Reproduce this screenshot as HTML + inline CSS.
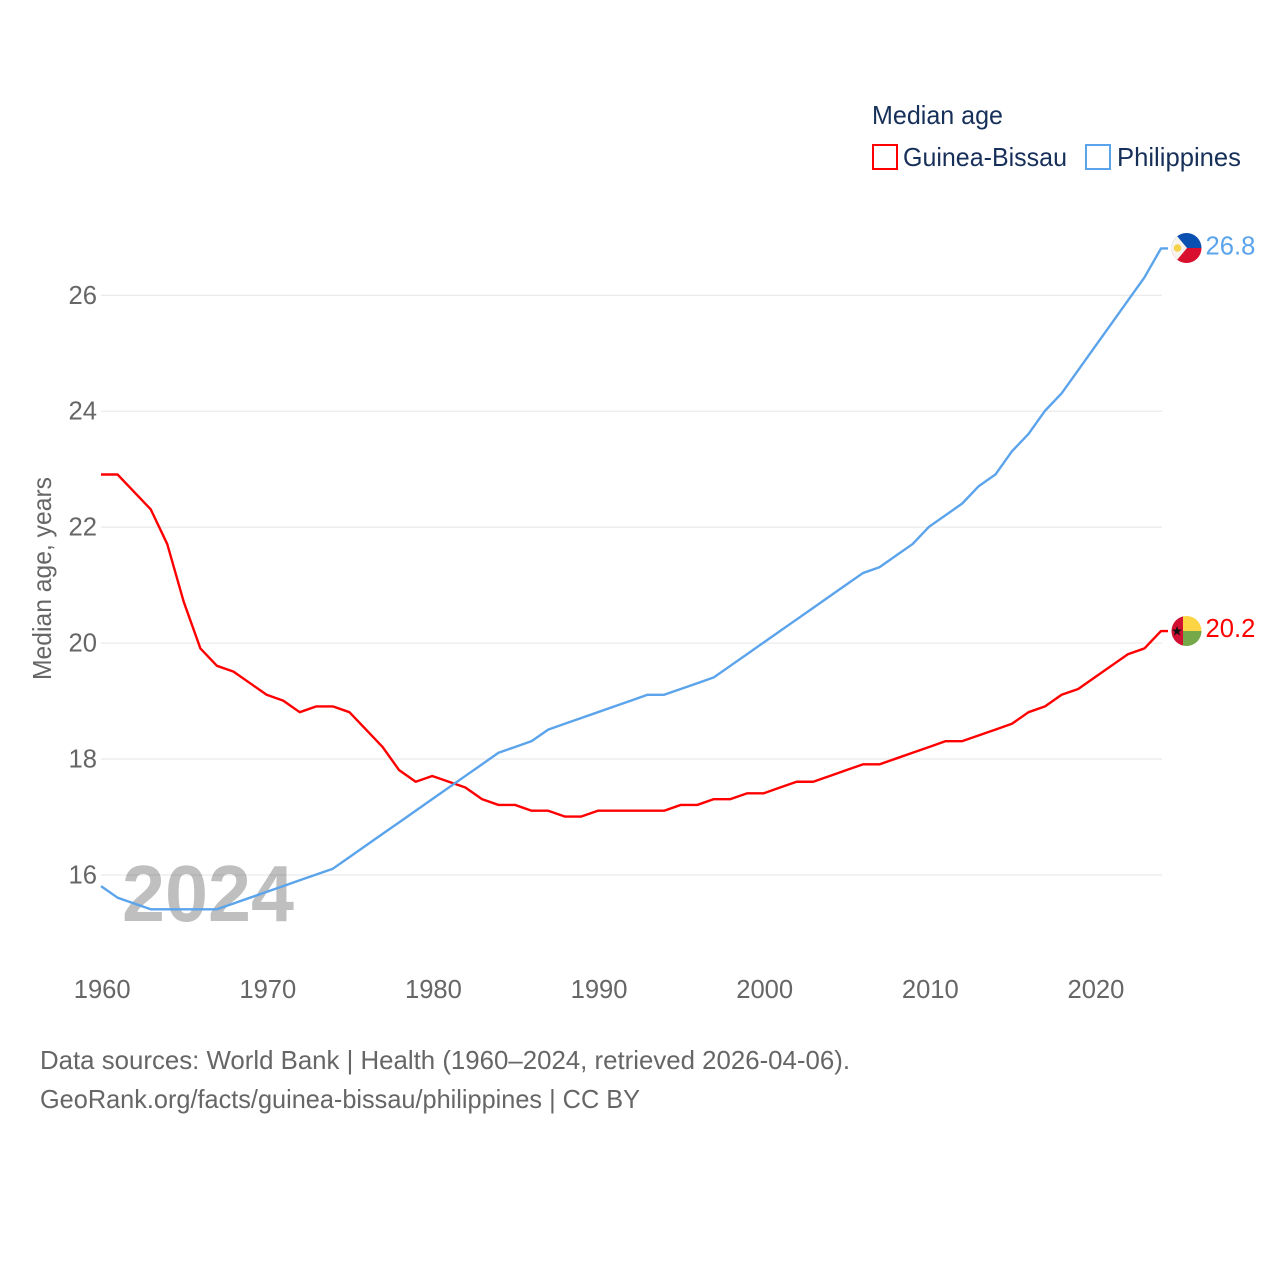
<!DOCTYPE html>
<html lang="en">
<head>
<meta charset="utf-8">
<title>Median age: Guinea-Bissau vs Philippines</title>
<style>
html,body{margin:0;padding:0;background:#fff;width:1280px;height:1280px;overflow:hidden}
svg{display:block}
text{font-family:"Liberation Sans",sans-serif}
</style>
</head>
<body>
<svg id="chart" xmlns="http://www.w3.org/2000/svg" width="1280" height="1280" viewBox="0 0 1280 1280">
  <rect width="1280" height="1280" fill="#fff"/>
  <g id="grid"></g>
  <g id="yticks"></g>
  <g id="xticks"></g>
  <text transform="translate(51,680) rotate(-90)" font-size="25.6" fill="#666" textLength="203" lengthAdjust="spacingAndGlyphs">Median age, years</text>
  <text x="122" y="921" font-size="80" font-weight="700" fill="#000" fill-opacity="0.25" textLength="172" lengthAdjust="spacingAndGlyphs">2024</text>
  <g id="series"></g>

  <g>
    <clipPath id="clip-ph"><circle cx="1186.5" cy="248" r="15"/></clipPath>
    <g clip-path="url(#clip-ph)">
      <rect x="1171" y="233" width="31" height="15" fill="#0a50b0"/>
      <rect x="1171" y="248" width="31" height="15" fill="#d8102e"/>
      <path d="M1167 224 L1187 248 L1167 272 Z" fill="#f6f4ec"/>
      <circle cx="1177.5" cy="248" r="3.8" fill="#f8d24a"/>
    </g>
  </g>
  <g>
    <clipPath id="clip-gw"><circle cx="1186.5" cy="631" r="15"/></clipPath>
    <g clip-path="url(#clip-gw)">
      <rect x="1171" y="616" width="12" height="30" fill="#d21034"/>
      <rect x="1183" y="616" width="19" height="15" fill="#fdd444"/>
      <rect x="1183" y="631" width="19" height="15" fill="#74a848"/>
      <path d="M1177 626 l1.3 3.6 3.7 0 -3 2.3 1.1 3.7 -3.1-2.2 -3.1 2.2 1.1-3.7 -3-2.3 3.7 0 z" fill="#111"/>
    </g>
  </g>
  <g id="end-labels"></g>

  <g>
    <text x="872" y="124" font-size="26" fill="#17305a" textLength="131" lengthAdjust="spacingAndGlyphs">Median age</text>
    <g>
      <rect x="873" y="145" width="24" height="24" fill="#fff" stroke="#ff0000" stroke-width="2"/>
      <text x="903" y="166" font-size="26" fill="#17305a" textLength="164" lengthAdjust="spacingAndGlyphs">Guinea-Bissau</text>
    </g>
    <g>
      <rect x="1086" y="145" width="24" height="24" fill="#fff" stroke="#5ba4ec" stroke-width="2"/>
      <text x="1117" y="166" font-size="26" fill="#17305a" textLength="124" lengthAdjust="spacingAndGlyphs">Philippines</text>
    </g>
  </g>

  <text x="40" y="1069" font-size="25.6" fill="#666" textLength="810" lengthAdjust="spacingAndGlyphs">Data sources: World Bank | Health (1960–2024, retrieved 2026-04-06).</text>
  <text x="40" y="1108" font-size="25.6" fill="#666" textLength="600" lengthAdjust="spacingAndGlyphs">GeoRank.org/facts/guinea-bissau/philippines | CC BY</text>
</svg>
<script>
const years = [1960,1961,1962,1963,1964,1965,1966,1967,1968,1969,1970,1971,1972,1973,1974,1975,1976,1977,1978,1979,1980,1981,1982,1983,1984,1985,1986,1987,1988,1989,1990,1991,1992,1993,1994,1995,1996,1997,1998,1999,2000,2001,2002,2003,2004,2005,2006,2007,2008,2009,2010,2011,2012,2013,2014,2015,2016,2017,2018,2019,2020,2021,2022,2023,2024];
const guineaBissau = [22.9,22.9,22.6,22.3,21.7,20.7,19.9,19.6,19.5,19.3,19.1,19.0,18.8,18.9,18.9,18.8,18.5,18.2,17.8,17.6,17.7,17.6,17.5,17.3,17.2,17.2,17.1,17.1,17.0,17.0,17.1,17.1,17.1,17.1,17.1,17.2,17.2,17.3,17.3,17.4,17.4,17.5,17.6,17.6,17.7,17.8,17.9,17.9,18.0,18.1,18.2,18.3,18.3,18.4,18.5,18.6,18.8,18.9,19.1,19.2,19.4,19.6,19.8,19.9,20.2];
const philippines = [15.8,15.6,15.5,15.4,15.4,15.4,15.4,15.4,15.5,15.6,15.7,15.8,15.9,16.0,16.1,16.3,16.5,16.7,16.9,17.1,17.3,17.5,17.7,17.9,18.1,18.2,18.3,18.5,18.6,18.7,18.8,18.9,19.0,19.1,19.1,19.2,19.3,19.4,19.6,19.8,20.0,20.2,20.4,20.6,20.8,21.0,21.2,21.3,21.5,21.7,22.0,22.2,22.4,22.7,22.9,23.3,23.6,24.0,24.3,24.7,25.1,25.5,25.9,26.3,26.8];
const yTickValues = [16,18,20,22,24,26];
const xTickValues = [1960,1970,1980,1990,2000,2010,2020];

const NS = 'http://www.w3.org/2000/svg';
const xScale = function (year) { return 101 + (year - 1960) * (1060 / 64); };
const yScale = function (value) { return 874.5 - (value - 16) * 57.97; };

function make(tag, parent, attrs, content) {
  const el = document.createElementNS(NS, tag);
  Object.keys(attrs).forEach(function (k) { el.setAttribute(k, attrs[k]); });
  if (content !== undefined) el.textContent = content;
  parent.appendChild(el);
  return el;
}

const gridGroup = document.getElementById('grid');
const yGroup = document.getElementById('yticks');
const xGroup = document.getElementById('xticks');
const seriesGroup = document.getElementById('series');
const endGroup = document.getElementById('end-labels');

yTickValues.forEach(function (v) {
  const line = make('line', gridGroup, { x1: 101, x2: 1162, y1: yScale(v) + 0.5, y2: yScale(v) + 0.5, stroke: '#ebebeb', 'stroke-width': 1.3 });
  
  
  const label = make('text', yGroup, { x: 97, y: yScale(v) + 9, 'text-anchor': 'end', 'font-size': 25.6, fill: '#666' }, String(v));
  
  
});

xTickValues.forEach(function (v) {
  const label = make('text', xGroup, { x: xScale(v) + 1.2, y: 998, 'text-anchor': 'middle', 'font-size': 25.6, fill: '#666' }, String(v));
  
  
});

function drawSeries(values, color) {
  const pts = values.map(function (v, i) { return xScale(years[i]).toFixed(2) + ',' + yScale(v).toFixed(2); });
  const lastY = yScale(values[values.length - 1]);
  pts.push((xScale(years[years.length - 1]) + 7) + ',' + lastY.toFixed(2));
  return make('polyline', seriesGroup, { points: pts.join(' '), fill: 'none', stroke: color, 'stroke-width': 2.4, 'stroke-linejoin': 'round' });
}
function drawEndLabel(values, color) {
  const last = values[values.length - 1];
  return make('text', endGroup, { x: 1205.5, y: yScale(last) + 6, 'font-size': 25.6, fill: color }, last.toFixed(1));
}

const gbLine = drawSeries(guineaBissau, '#ff0000');


const phLine = drawSeries(philippines, '#5ba4ec');


const gbEnd = drawEndLabel(guineaBissau, '#ff0000');


const phEnd = drawEndLabel(philippines, '#5ba4ec');


</script>
</body>
</html>
